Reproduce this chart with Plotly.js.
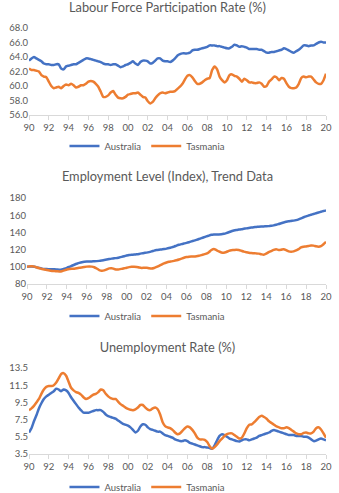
<!DOCTYPE html>
<html><head><meta charset="utf-8">
<script src="https://cdn.plot.ly/plotly-3.0.1.min.js"></script>
<style>
body{margin:0;background:#fff;width:339px;height:493px;overflow:hidden;}
.c{position:absolute;left:0;width:339px;}
</style>
</head><body>
<div id="c1" class="c" style="top:0;height:160px"></div>
<div id="c2" class="c" style="top:160px;height:165px"></div>
<div id="c3" class="c" style="top:325px;height:168px"></div>
<script>
// Quarterly time points (decimal years)
const quarters = [
1990,1990.25,1990.5,1990.75, 1991,1991.25,1991.5,1991.75, 1992,1992.25,1992.5,1992.75,
1993,1993.25,1993.5,1993.75, 1994,1994.25,1994.5,1994.75, 1995,1995.25,1995.5,1995.75,
1996,1996.25,1996.5,1996.75, 1997,1997.25,1997.5,1997.75, 1998,1998.25,1998.5,1998.75,
1999,1999.25,1999.5,1999.75, 2000,2000.25,2000.5,2000.75, 2001,2001.25,2001.5,2001.75,
2002,2002.25,2002.5,2002.75, 2003,2003.25,2003.5,2003.75, 2004,2004.25,2004.5,2004.75,
2005,2005.25,2005.5,2005.75, 2006,2006.25,2006.5,2006.75, 2007,2007.25,2007.5,2007.75,
2008,2008.25,2008.5,2008.75, 2009,2009.25,2009.5,2009.75, 2010,2010.25,2010.5,2010.75,
2011,2011.25,2011.5,2011.75, 2012,2012.25,2012.5,2012.75, 2013,2013.25,2013.5,2013.75,
2014,2014.25,2014.5,2014.75, 2015,2015.25,2015.5,2015.75, 2016,2016.25,2016.5,2016.75,
2017,2017.25,2017.5,2017.75, 2018,2018.25,2018.5,2018.75, 2019,2019.25,2019.5,2019.75,
2020];

const tickVals = [1990,1992,1994,1996,1998,2000,2002,2004,2006,2008,2010,2012,2014,2016,2018,2020];
const tickText = ['90','92','94','96','98','00','02','04','06','08','10','12','14','16','18','20'];

const seriesNames = ['Australia','Tasmania'];

// Labour Force Participation Rate (%)
const lfprAustralia = [
63.5,63.8,64.0,63.8, 63.6,63.4,63.1,63.0, 63.0,62.9,62.9,63.0, 63.0,62.4,62.3,62.7,
62.8,62.9,63.0,63.0, 63.2,63.4,63.6,63.8, 63.8,63.7,63.6,63.5, 63.4,63.3,63.1,63.0,
63.0,62.9,63.0,63.0, 62.8,62.6,62.7,62.9, 63.0,63.2,63.4,63.1, 62.9,63.3,63.5,63.5,
63.4,63.1,63.2,63.5, 63.8,63.8,63.5,63.4, 63.4,63.3,63.5,63.8, 64.2,64.4,64.5,64.5,
64.5,64.6,64.9,65.0, 65.0,65.1,65.2,65.3, 65.4,65.6,65.6,65.6, 65.5,65.5,65.4,65.3,
65.2,65.2,65.4,65.7, 65.6,65.4,65.5,65.4, 65.3,65.1,65.1,65.1, 65.1,65.0,65.0,64.8,
64.6,64.6,64.7,64.7, 64.8,64.9,65.0,65.2, 65.1,64.9,64.7,64.6, 64.8,65.0,65.3,65.6,
65.6,65.5,65.6,65.6, 65.8,66.0,66.1,66.0, 66.0];
const lfprTasmania = [
62.4,62.2,62.2,62.1, 62.0,61.5,61.3,61.2, 60.6,60.0,59.7,59.8, 59.9,59.7,60.0,60.2,
60.1,60.3,60.1,59.8, 59.9,60.1,60.1,60.3, 60.6,60.7,60.6,60.3, 59.9,59.2,58.5,58.5,
58.7,59.1,59.3,58.8, 58.4,58.3,58.3,58.5, 58.8,58.9,59.0,59.0, 59.1,58.8,58.5,58.4,
57.9,57.6,57.8,58.3, 58.7,59.0,59.1,59.0, 59.1,59.2,59.2,59.3, 59.6,59.9,60.3,60.9,
61.4,61.5,61.2,60.7, 60.3,60.3,60.5,60.8, 61.0,61.1,62.2,62.7, 62.3,61.3,60.8,60.5,
60.8,61.5,61.6,61.4, 61.3,61.0,60.6,61.0, 60.8,60.5,60.5,60.4, 60.4,60.5,60.3,59.9,
60.0,60.6,60.9,61.3, 61.2,60.8,61.1,61.0, 60.4,59.9,59.7,59.7, 59.8,60.3,61.1,61.3,
61.2,61.3,61.3,60.9, 60.5,60.3,60.3,60.8, 61.7];

// Employment Level (Index), Trend Data
const empAustralia = [
100.0,100.3,100.4,100.0, 99.3,98.5,97.9,97.5, 97.3,97.2,97.2,97.1, 96.9,96.7,97.0,97.8,
98.8,100.0,101.2,102.4, 103.5,104.5,105.3,105.8, 106.1,106.2,106.3,106.4, 106.6,106.9,107.3,107.8,
108.4,109.0,109.5,109.9, 110.3,110.8,111.5,112.3, 113.1,113.8,114.1,114.2, 114.5,115.0,115.6,116.1,
116.5,117.1,117.9,118.8, 119.5,119.9,120.2,120.6, 121.1,121.8,122.6,123.5, 124.6,125.6,126.4,127.1,
127.8,128.6,129.5,130.4, 131.3,132.3,133.3,134.3, 135.3,136.3,137.2,137.6, 137.7,137.7,137.9,138.4,
139.2,140.2,141.3,142.3, 142.9,143.3,143.7,144.2, 144.7,145.2,145.6,146.0, 146.4,146.7,146.9,147.0,
147.1,147.3,147.7,148.2, 148.9,149.7,150.6,151.5, 152.3,152.9,153.3,153.7, 154.3,155.2,156.4,157.6,
158.7,159.6,160.5,161.4, 162.3,163.2,164.0,164.8, 165.5];
const empTasmania = [
100.0,100.5,100.6,100.2, 99.2,98.3,97.5,96.8, 96.2,95.6,95.2,95.0, 94.8,94.6,94.9,95.8,
96.8,97.4,97.6,97.7, 98.2,98.8,99.3,99.8, 100.2,100.4,100.2,99.5, 98.0,96.2,95.4,95.8,
97.0,98.2,98.4,97.5, 96.8,97.0,97.6,98.3, 99.0,99.6,100.0,100.0, 99.8,99.2,98.7,98.9,
99.0,98.4,98.0,98.6, 99.8,101.2,102.6,104.0, 105.0,105.8,106.3,106.9, 107.6,108.5,109.5,110.5,
111.3,111.8,111.9,111.9, 112.2,112.8,113.6,114.4, 115.3,117.0,119.5,120.8, 119.5,117.8,116.6,116.3,
117.2,118.5,119.3,119.5, 119.8,119.5,118.6,117.7, 117.0,116.4,116.0,115.8, 115.6,115.3,114.6,114.0,
115.2,117.0,118.3,119.6, 120.4,119.5,119.8,120.4, 119.4,117.9,117.4,117.9, 119.0,120.6,122.5,123.4,
123.6,124.2,124.8,124.6, 123.8,123.4,124.0,126.2, 129.0];

// Unemployment Rate (%)
const unempAustralia = [
6.0,6.5,7.3,8.0, 8.8,9.4,9.9,10.2, 10.4,10.6,10.8,11.1, 11.0,10.8,11.0,10.9,
10.6,10.1,9.7,9.3, 8.9,8.6,8.3,8.3, 8.3,8.4,8.5,8.6, 8.6,8.6,8.4,8.1,
7.9,7.8,7.7,7.6, 7.4,7.2,7.0,6.9, 6.8,6.6,6.3,6.0, 6.2,6.7,6.95,6.9,
6.6,6.4,6.3,6.2, 6.1,6.1,5.9,5.7, 5.6,5.5,5.4,5.2, 5.1,5.0,5.0,5.1,
5.0,4.8,4.7,4.6, 4.5,4.4,4.3,4.3, 4.25,4.2,4.1,4.5, 5.1,5.6,5.8,5.7,
5.5,5.3,5.2,5.1, 5.0,4.95,5.1,5.2, 5.2,5.1,5.2,5.3, 5.4,5.6,5.7,5.8,
5.9,6.0,6.2,6.3, 6.2,6.1,6.0,5.9, 5.8,5.7,5.7,5.7, 5.6,5.6,5.6,5.5,
5.5,5.4,5.2,5.0, 5.05,5.2,5.3,5.2, 5.1];
const unempTasmania = [
8.6,8.8,9.1,9.5, 9.9,10.5,11.0,11.3, 11.4,11.4,11.5,11.8, 12.3,12.8,12.9,12.6,
11.9,11.2,10.9,10.7, 10.6,10.4,10.1,9.9, 10.0,10.2,10.4,10.5, 10.7,11.0,10.9,10.5,
10.2,10.0,9.9,9.9, 9.6,9.3,9.1,8.9, 8.75,8.65,8.6,8.7, 8.9,9.2,9.2,8.9,
8.65,8.6,8.8,8.9, 8.7,8.1,7.2,6.75, 6.6,6.5,6.3,6.0, 5.8,5.9,6.2,6.5,
6.7,6.6,6.3,5.9, 5.4,5.2,5.2,5.15, 4.9,4.4,4.1,4.3, 4.6,5.0,5.3,5.6,
5.8,5.9,5.9,5.7, 5.5,5.3,5.4,5.9, 6.5,6.9,6.95,7.2, 7.5,7.8,7.95,7.8,
7.6,7.3,7.1,6.9, 6.7,6.6,6.5,6.5, 6.6,6.5,6.3,6.1, 5.9,5.8,5.8,5.95,
6.0,5.9,5.9,6.1, 6.5,6.6,6.35,5.9, 5.4];

const FONT = 'Lato, Carlito, Calibri, "Open Sans", sans-serif';
const GREY = '#595959';
const COLORS = ['#4472C4', '#ED7D31'];

function makeChart(id, title, aus, tas, opt) {
  const traces = [aus, tas].map((vals, i) => ({
    type: 'scatter', mode: 'lines', name: seriesNames[i],
    x: quarters, y: vals,
    line: {color: COLORS[i], width: 2.5, shape: 'spline', smoothing: 0.5},
    hoverinfo: 'skip'
  }));
  const layout = {
    width: 339, height: opt.h,
    margin: {l: opt.l, r: 13, t: opt.t, b: opt.b, pad: 0, autoexpand: false},
    paper_bgcolor: '#fff', plot_bgcolor: '#fff',
    font: {family: FONT, color: GREY, size: 9.5},
    title: {text: title, font: {family: FONT, size: 12.8, color: GREY},
            x: 0.494, xref: 'container', xanchor: 'center',
            y: opt.titleY, yref: 'container', yanchor: 'middle'},
    xaxis: {range: [1990, 2020], tickmode: 'array', tickvals: tickVals, ticktext: tickText,
            showgrid: false, zeroline: false, showline: true, linecolor: '#d9d9d9', linewidth: 1,
            ticks: 'outside', ticklen: 4, tickcolor: '#d9d9d9',
            tickfont: {family: FONT, size: 9.5, color: GREY}, fixedrange: true},
    yaxis: {range: opt.yr, dtick: opt.dtick, tick0: opt.yr[0], tickformat: opt.fmt,
            showgrid: false, zeroline: false, showline: false, ticks: '',
            tickfont: {family: FONT, size: 9.5, color: GREY}, fixedrange: true},
    showlegend: true,
    legend: {orientation: 'h', x: 0.435, xanchor: 'center', xref: 'container',
             y: opt.legY, yanchor: 'middle', yref: 'container',
             font: {family: FONT, size: 9.5, color: GREY}, itemwidth: 30, tracegroupgap: 0}
  };
  Plotly.newPlot(id, traces, layout, {staticPlot: true, displayModeBar: false});
}

makeChart('c1', 'Labour Force Participation Rate (%)', lfprAustralia, lfprTasmania,
  {h: 160, l: 29, t: 28, b: 45, yr: [56, 68], dtick: 2, fmt: '.1f', titleY: 0.95, legY: 0.0875});
makeChart('c2', 'Employment Level (Index), Trend Data', empAustralia, empTasmania,
  {h: 165, l: 27, t: 38, b: 41, yr: [80, 180], dtick: 20, fmt: 'd', titleY: 0.897, legY: 0.0545});
makeChart('c3', 'Unemployment Rate (%)', unempAustralia, unempTasmania,
  {h: 168, l: 29, t: 43, b: 39, yr: [3.5, 13.5], dtick: 2, fmt: '.1f', titleY: 0.863, legY: 0.0357});
</script>
</body></html>
